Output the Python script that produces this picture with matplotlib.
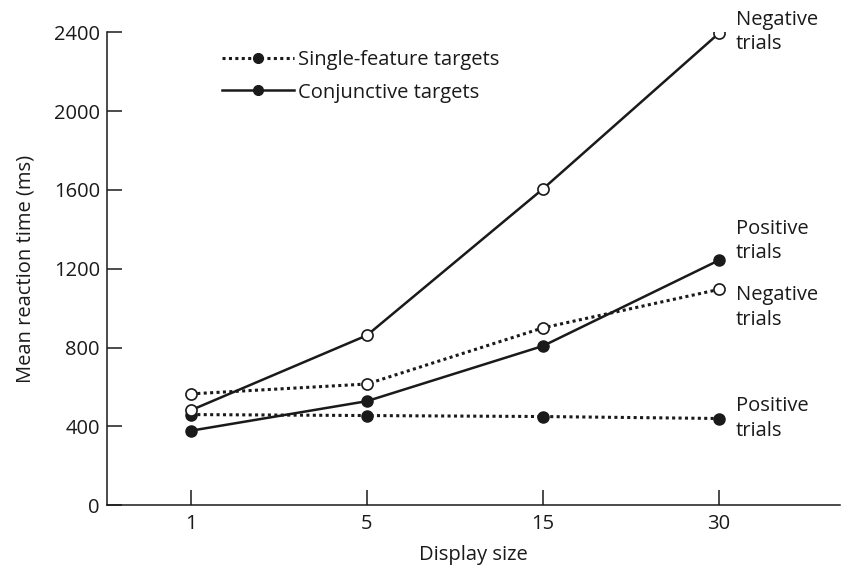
import matplotlib.pyplot as plt
from matplotlib.lines import Line2D

plt.rcParams['font.family'] = ['Open Sans', 'DejaVu Sans']

display_sizes = ['1', '5', '15', '30']
single_pos = [460, 455, 450, 440]
single_neg = [565, 615, 900, 1095]
conj_pos = [378, 528, 808, 1243]
conj_neg = [482, 862, 1605, 2395]

ink = '#1a1a1a'
fs = 14.5
x = range(len(display_sizes))

fig = plt.figure(figsize=(8.42, 5.67), dpi=100)
ax = fig.add_axes([0.127, 0.109, 0.871, 0.834])

dots = (0, (1, 1.1))
ax.plot(x, single_pos, color=ink, lw=2.2, ls=dots, marker='o', ms=8,
        mfc=ink, mec=ink)
ax.plot(x, single_neg, color=ink, lw=2.2, ls=dots, marker='o', ms=8,
        mfc='white', mec=ink, mew=1.2)
ax.plot(x, conj_pos, color=ink, lw=1.8, marker='o', ms=8, mfc=ink, mec=ink)
ax.plot(x, conj_neg, color=ink, lw=1.8, marker='o', ms=8,
        mfc='white', mec=ink, mew=1.2)

# end labels
ends = [(conj_neg[-1], 1), (conj_pos[-1], 14), (single_neg[-1], -13), (single_pos[-1], 0)]
names = ['Negative\ntrials', 'Positive\ntrials', 'Negative\ntrials', 'Positive\ntrials']
for (yv, dy), name in zip(ends, names):
    ax.annotate(name, xy=(3, yv), xytext=(12, dy), textcoords='offset points',
                ha='left', va='center', fontsize=fs, color=ink, linespacing=1.3,
                annotation_clip=False)

handles = [
    Line2D([], [], color=ink, lw=2.2, ls=dots, marker='o', ms=7, mfc=ink),
    Line2D([], [], color=ink, lw=1.8, marker='o', ms=7, mfc=ink),
]
ax.legend(handles, ['Single-feature targets', 'Conjunctive targets'],
          loc='upper left', bbox_to_anchor=(0.132, 1.0), frameon=False,
          fontsize=fs, handlelength=3.6, handletextpad=0.2, labelspacing=0.6,
          labelcolor=ink)

ax.set_xticks(list(x))
ax.set_xticklabels(display_sizes)
ax.set_xlim(-0.477, 3.69)
ax.set_ylim(0, 2400)
ax.set_yticks(range(0, 2401, 400))

for s in ['top', 'right']:
    ax.spines[s].set_visible(False)
for s in ['left', 'bottom']:
    ax.spines[s].set_linewidth(1.1)
    ax.spines[s].set_color(ink)
ax.tick_params(direction='in', length=11, width=1.1, color=ink,
               labelsize=fs, labelcolor=ink)
ax.tick_params(axis='x', pad=6)
ax.tick_params(axis='y', pad=5)

ax.set_xlabel('Display size', fontsize=fs, color=ink, labelpad=8)
ax.set_ylabel('Mean reaction time (ms)', fontsize=fs, color=ink, labelpad=13)

fig.savefig('out.png', dpi=100)
